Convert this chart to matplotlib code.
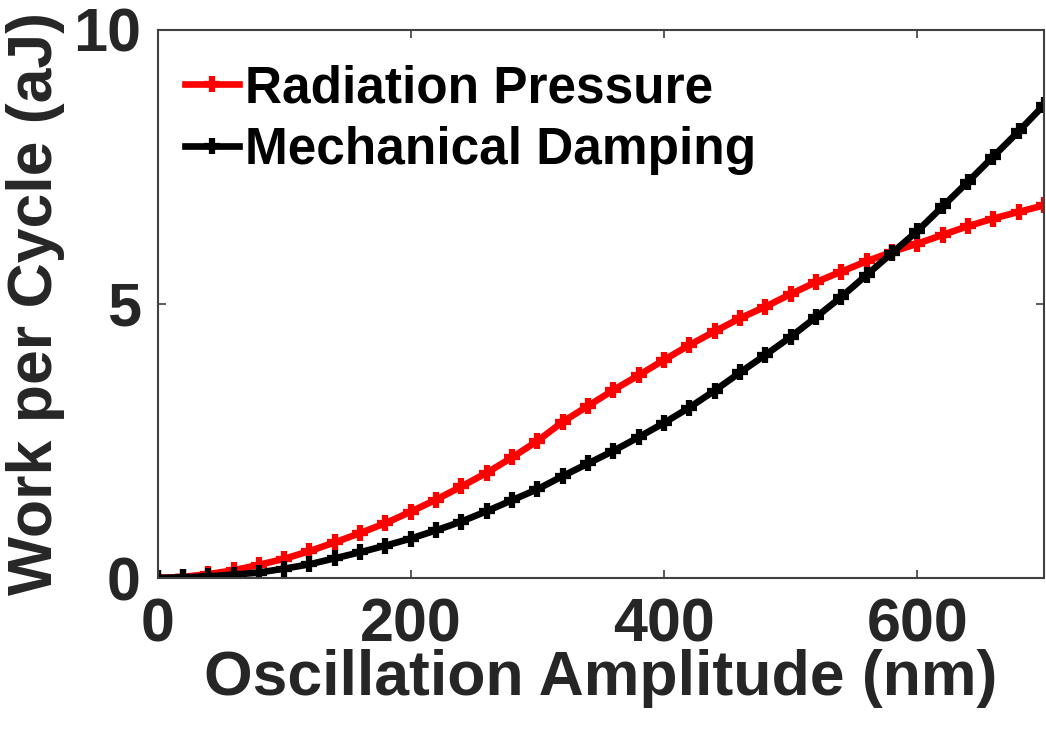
import matplotlib
matplotlib.use("Agg")
import matplotlib.pyplot as plt
import numpy as np

# Oscillation amplitude sampled every 20 nm
amplitude_nm = np.arange(0, 701, 20)

# Work per cycle (aJ)
radiation_pressure = [
    0.00, 0.02, 0.07, 0.14, 0.24, 0.35, 0.49, 0.65, 0.82, 1.00,
    1.21, 1.43, 1.67, 1.92, 2.20, 2.50, 2.85, 3.14, 3.43, 3.70,
    3.98, 4.25, 4.50, 4.74, 4.95, 5.18, 5.40, 5.59, 5.78, 5.95,
    6.10, 6.26, 6.42, 6.56, 6.68, 6.80,
]
mechanical_damping = [
    0.00, 0.01, 0.03, 0.06, 0.10, 0.17, 0.25, 0.36, 0.47, 0.59,
    0.72, 0.87, 1.03, 1.22, 1.42, 1.62, 1.86, 2.09, 2.32, 2.57,
    2.83, 3.11, 3.42, 3.75, 4.07, 4.40, 4.76, 5.13, 5.53, 5.93,
    6.33, 6.78, 7.23, 7.69, 8.15, 8.63,
]

series_labels = ["Radiation Pressure", "Mechanical Damping"]
x_ticks = [0, 200, 400, 600]
y_ticks = [0, 5, 10]

plt.rcParams["font.family"] = ["Liberation Sans", "DejaVu Sans"]
plt.rcParams["font.weight"] = "bold"
text_color = "#262626"

fig = plt.figure(figsize=(10.46, 7.35), dpi=100)
ax = fig.add_axes([0.1506, 0.2136, 0.8474, 0.7456])

style = dict(linewidth=4.8, marker="+", markersize=12, markeredgewidth=4.5)
ax.plot(amplitude_nm, radiation_pressure, color="#ff0000",
        label=series_labels[0], **style)
ax.plot(amplitude_nm, mechanical_damping, color="#000000",
        label=series_labels[1], **style)

ax.set_xlim(0, 700)
ax.set_ylim(0, 10)
ax.set_xticks(x_ticks)
ax.set_yticks(y_ticks)

ax.tick_params(direction="in", top=True, right=True, length=6, width=1.2,
               colors="#404040", labelcolor=text_color, labelsize=44)
ax.tick_params(axis="x", pad=14)
ax.tick_params(axis="y", pad=12)
for lbl in ax.get_xticklabels() + ax.get_yticklabels():
    lbl.set_fontweight("bold")
for sp in ax.spines.values():
    sp.set_linewidth(1.5)
    sp.set_color("#404040")

ax.set_xlabel("Oscillation Amplitude (nm)", fontsize=45, fontweight="bold",
              color=text_color, labelpad=-4)
ax.set_ylabel("Work per Cycle (aJ)", fontsize=45, fontweight="bold",
              color=text_color, labelpad=6)

leg = ax.legend(loc="upper left", frameon=False, fontsize=37,
                handlelength=1.05, handletextpad=0.12, labelspacing=0.25,
                borderaxespad=0.0, bbox_to_anchor=(0.008, 0.975))
for t in leg.get_texts():
    t.set_fontweight("bold")
    t.set_color("#000000")

fig.savefig("out.png", dpi=100)
